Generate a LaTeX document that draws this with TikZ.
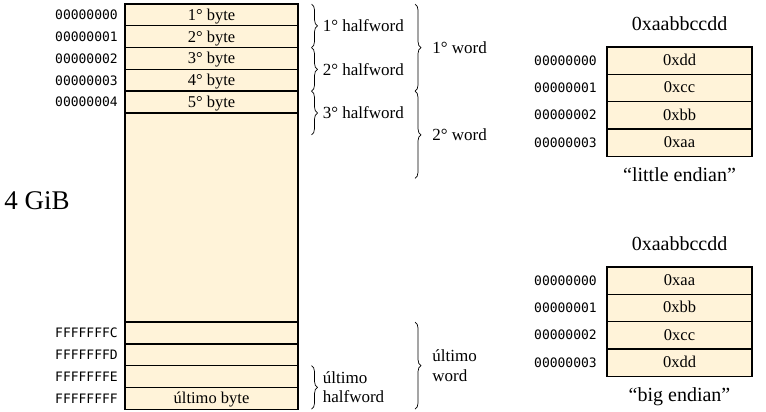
\documentclass[tikz,border=0pt]{standalone}
\usepackage{fontspec}
\setmainfont{Liberation Serif}
\setmonofont{DejaVu Sans Mono}
\usetikzlibrary{positioning,decorations.pathreplacing}
\definecolor{memfill}{HTML}{FFF3D9}

\tikzset{
  cell/.style={draw, line width=1.4pt, fill=memfill, minimum width=173pt, minimum height=21.8pt,
    inner sep=0pt, outer sep=0pt, text height=11pt, text depth=0pt, font=\fontsize{16.5}{18}\selectfont},
  endcell/.style={cell, minimum width=145pt, minimum height=27.3pt, text height=10pt},
  addr/.style={font=\ttfamily\fontsize{13}{14}\selectfont, inner sep=0pt},
  brace/.style={decorate, decoration={brace, amplitude=6pt}, line width=0.7pt},
  blabel/.style={inner sep=3pt, font=\fontsize{17}{19.5}\selectfont, align=left},
  title/.style={inner sep=3pt, font=\fontsize{20}{22}\selectfont},
}

\begin{document}
\begin{tikzpicture}[x=1pt, y=-1pt, label distance=7pt]
\useasboundingbox (0,0) rectangle (766,412);

% Memory

\node[cell, anchor=north west, label={[addr]left:00000000}] (b1) at (125,4) {1° byte};
\node[cell, below=0pt of b1, label={[addr]left:00000001}] (b2) {2° byte};
\node[cell, below=0pt of b2, label={[addr]left:00000002}] (b3) {3° byte};
\node[cell, below=0pt of b3, label={[addr]left:00000003}] (b4) {4° byte};
\node[cell, below=0pt of b4, label={[addr]left:00000004}] (b5) {5° byte};
\node[cell, below=0pt of b5, minimum height=209pt] (gap) {};
\node[cell, below=0pt of gap, label={[addr]left:FFFFFFFC}] (e1) {};
\node[cell, below=0pt of e1, label={[addr]left:FFFFFFFD}] (e2) {};
\node[cell, below=0pt of e2, label={[addr]left:FFFFFFFE}] (e3) {};
\node[cell, below=0pt of e3, label={[addr]left:FFFFFFFF}] (e4) {último byte};

\node[font=\fontsize{27}{28}\selectfont, inner sep=0pt] (size) at (37,201) {4 GiB};

% Braces

\draw[brace] ([xshift=13.5pt]b1.north east) -- ([xshift=13.5pt]b2.south east)
  node[blabel, midway, right=8pt] (h1) {1° halfword};
\draw[brace] ([xshift=13.5pt]b3.north east) -- ([xshift=13.5pt]b4.south east)
  node[blabel, midway, right=8pt] (h2) {2° halfword};
\draw[brace] ([xshift=13.5pt]b5.north east) -- ([xshift=13.5pt, yshift=-21.8pt]b5.south east)
  node[blabel, midway, right=8pt] (h3) {3° halfword};
\draw[brace] ([xshift=117pt]b1.north east) -- ([xshift=117pt]b4.south east)
  node[blabel, midway, right=14pt] (w1) {1° word};
\draw[brace] ([xshift=117pt]b5.north east) -- ([xshift=117pt, yshift=-65.4pt]b5.south east)
  node[blabel, midway, right=14pt] (w2) {2° word};
\draw[brace] ([xshift=13.5pt]e3.north east) -- ([xshift=13.5pt]e4.south east)
  node[blabel, midway, right=8pt] (hl) {último\\halfword};
\draw[brace] ([xshift=117pt]e1.north east) -- ([xshift=117pt]e4.south east)
  node[blabel, midway, right=14pt] (wl) {último\\word};

% Little endian

\node[endcell, anchor=north west, label={[addr, label distance=10pt]left:00000000}] (l1) at (607,47) {0xdd};
\node[endcell, below=0pt of l1, label={[addr, label distance=10pt]left:00000001}] (l2) {0xcc};
\node[endcell, below=0pt of l2, label={[addr, label distance=10pt]left:00000002}] (l3) {0xbb};
\node[endcell, below=0pt of l3, label={[addr, label distance=10pt]left:00000003}] (l4) {0xaa};
\node[title, above=13pt of l1] (ltitle) {0xaabbccdd};
\node[title, below=8pt of l4] (lcap) {“little endian”};

% Big endian

\node[endcell, anchor=north west, label={[addr, label distance=10pt]left:00000000}] (g1) at (607,267) {0xaa};
\node[endcell, below=0pt of g1, label={[addr, label distance=10pt]left:00000001}] (g2) {0xbb};
\node[endcell, below=0pt of g2, label={[addr, label distance=10pt]left:00000002}] (g3) {0xcc};
\node[endcell, below=0pt of g3, label={[addr, label distance=10pt]left:00000003}] (g4) {0xdd};
\node[title, above=13pt of g1] (gtitle) {0xaabbccdd};
\node[title, below=8pt of g4] (gcap) {“big endian”};

\end{tikzpicture}
\end{document}
